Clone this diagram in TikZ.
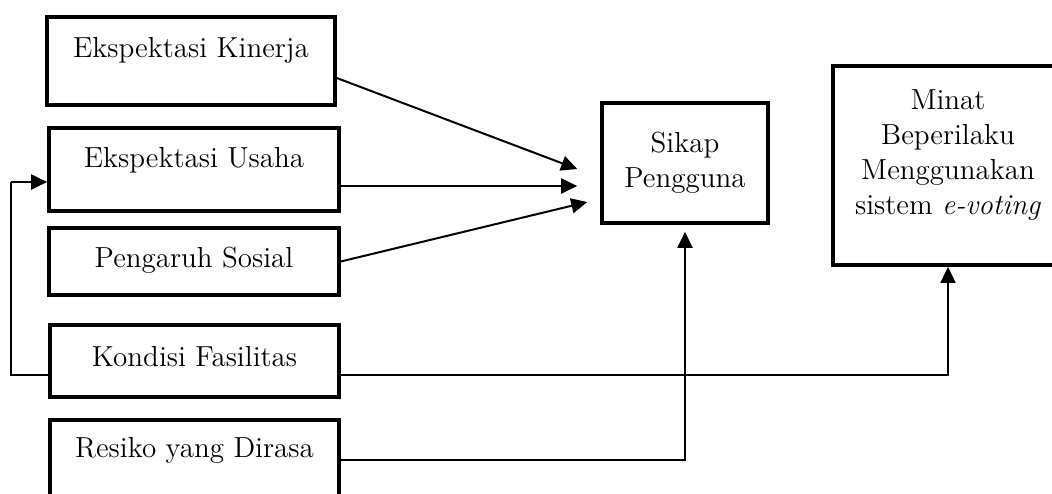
\documentclass[tikz,border=0pt]{standalone}
\usepackage{tikz}
\usetikzlibrary{arrows.meta}
\tikzset{
BOX/.style ={draw=black,line width=1.8pt,inner sep=0pt},
TXT/.style ={align=center,font=\fontsize{14.5}{17.5}\selectfont},
ARR/.style ={draw=black,line width=1pt,-{Triangle[length=8pt,width=7.5pt]}},
THIN/.style={draw=black,line width=0.6pt},
}
\begin{document}
\begin{tikzpicture}
[x=0.5pt,y=-0.5pt]
	\clip (0,0) rectangle (1052,493); %Page
	%Variables
	\node[BOX,minimum width=144pt,minimum height=44pt,label={[TXT,yshift=5.5pt]center:Ekspektasi Kinerja}] (kinerja) at (191,61) {};
	\node[BOX,minimum width=145pt,minimum height=41.5pt,label={[TXT,yshift=4.5pt]center:Ekspektasi Usaha}] (usaha) at (194,169.5) {};
	\node[BOX,minimum width=145pt,minimum height=33.5pt,label={[TXT,yshift=0.5pt]center:Pengaruh Sosial}] (sosial) at (194,261.5) {};
	\node[BOX,minimum width=144.5pt,minimum height=36pt,label={[TXT,yshift=2pt]center:Kondisi Fasilitas}] (fasilitas) at (194.5,361) {};
	\node[BOX,minimum width=144.5pt,minimum height=40pt,label={[TXT,yshift=5pt]center:Resiko yang Dirasa}] (resiko) at (194.5,460) {};
	\node[BOX,minimum width=83pt,minimum height=60pt,label={[TXT]center:Sikap\\Pengguna}] (sikap) at (685,163) {};
	\node[BOX,minimum width=115pt,minimum height=99.5pt,label={[TXT,yshift=5pt]center:Minat\\Beperilaku\\Menggunakan\\sistem \textit{e-voting}}] (minat) at (948,165.5) {};
	\coordinate (bend) at (11,182);
	%Paths
	\path[ARR] ([yshift=-8.5pt]kinerja.east) -- ([xshift=-11.5pt,yshift=-3pt]sikap.west);
	\path[ARR] ([yshift=-8.25pt]usaha.east) -- ([xshift=-11.5pt,yshift=-11.5pt]sikap.west);
	\path[ARR] (sosial.east) -- ([xshift=-6.5pt,yshift=-19.5pt]sikap.west);
	\path[ARR,shorten >=3.5pt] (resiko.east) -| (sikap.south);
	\path[ARR,line width=0.7pt] ([yshift=-7pt]fasilitas.east) -| (minat.south);
	\path[THIN] ([yshift=-7pt]fasilitas.west) -| (bend);
	\path[ARR] (bend) -- ([yshift=-6.25pt]usaha.west);
\end{tikzpicture}
\end{document}
